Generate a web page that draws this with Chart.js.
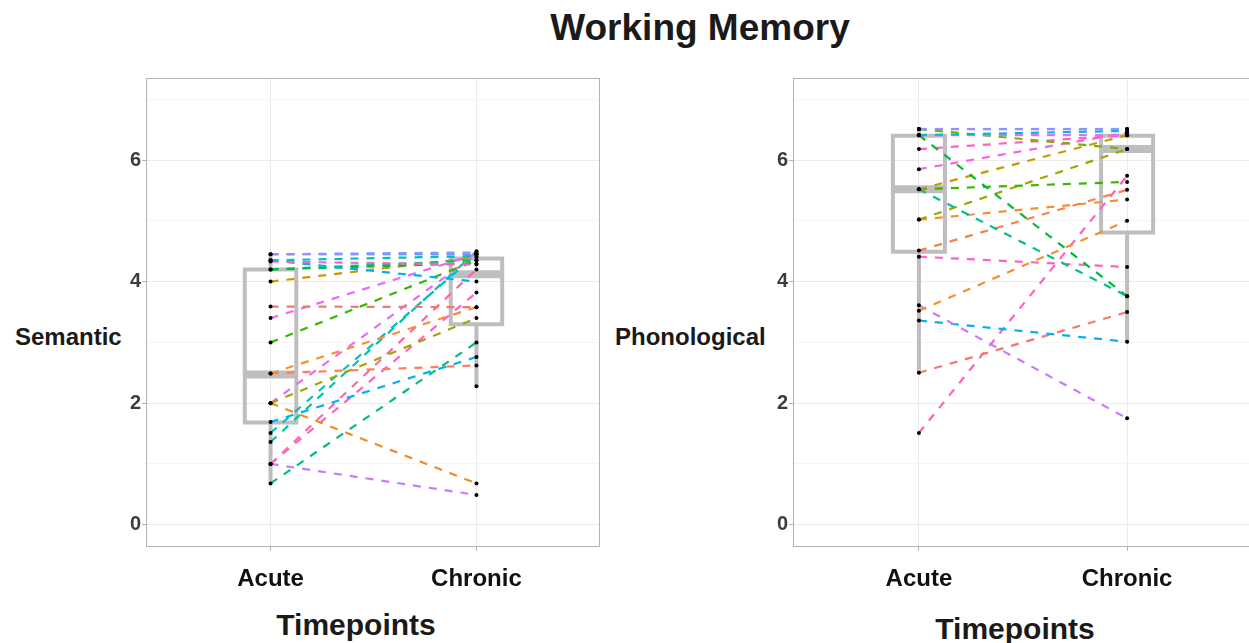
<!DOCTYPE html>
<html>
<head>
<meta charset="utf-8">
<script src="https://cdn.jsdelivr.net/npm/chart.js@4.4.0/dist/chart.umd.min.js"></script>
<style>
  html, body { margin: 0; padding: 0; width: 1249px; height: 643px; overflow: hidden; background: #fff; }
  body { position: relative; font-family: "Liberation Sans", Arial, sans-serif; }
  .lbl { position: absolute; font-weight: bold; color: #1a1a1a; white-space: nowrap; line-height: 1; }
  canvas { position: absolute; top: 0; }
</style>
</head>
<body>
<div class="lbl" style="left:500px; width:400px; top:9px; font-size:37px; text-align:center;">Working Memory</div>
<div class="lbl" style="left:15px; top:325px; font-size:24px;">Semantic</div>
<div class="lbl" style="left:615px; top:325px; font-size:24px;">Phonological</div>
<div class="lbl" style="left:256px; width:200px; top:610px; font-size:30px; text-align:center;">Timepoints</div>
<div class="lbl" style="left:915px; width:200px; top:614px; font-size:30px; text-align:center;">Timepoints</div>

<canvas id="semantic" width="620" height="643" style="left:0;"></canvas>
<canvas id="phono" width="636" height="643" style="left:620px;"></canvas>

<script>
// tick labels
const timepoints = ['Acute', 'Chronic'];
const yTicks = [0, 1, 2, 3, 4, 5, 6, 7];

// Semantic: one entry per subject (acute -> chronic)
const semanticAcute   = [4.45, 4.45, 4.35, 4.33, 4.35, 4.2, 4.2, 4.0, 3.59, 3.4, 3.0, 2.49, 2.49, 2.0, 2.0, 2.0, 1.69, 1.51, 1.36, 1.0, 1.0, 1.0, 0.68, null];
const semanticChronic = [4.48, 4.45, 4.42, 4.28, 4.0, 4.3, 4.35, 4.4, 3.58, 4.45, 4.35, 3.58, 2.62, 0.68, 3.4, 4.45, 2.76, 4.45, 4.5, 0.49, 3.82, 4.2, 3.0, 2.28];
// boxplot stats: [lower whisker, q1, median, q3, upper whisker]
const semanticBoxAcute   = [0.68, 1.68, 2.47, 4.2, 4.45];
const semanticBoxChronic = [2.28, 3.3, 4.12, 4.38, 4.5];

// Phonological
const phonoAcute   = [6.51, 6.51, 6.41, 6.41, 6.51, 6.41, 6.18, 5.85, 5.52, 5.52, 5.52, 5.02, 5.02, 4.51, 4.41, 3.52, 3.61, 3.36, 2.50, 1.51];
const phonoChronic = [6.51, 6.51, 6.48, 6.41, 6.18, 3.76, 6.41, 6.45, 6.41, 5.64, 3.76, 6.18, 5.35, 5.51, 4.24, 5.0, 1.75, 3.01, 3.50, 5.74];
const phonoBoxAcute   = [2.5, 4.49, 5.52, 6.4, 6.51];
const phonoBoxChronic = [3.0, 4.81, 6.18, 6.4, 6.51];

// line colours per subject
const semanticColors = ['#9590FF', '#619CFF', '#00BFC4', '#FF61C3', '#00B0F6', '#00BA38', '#00C08B', '#D39200',
  '#F8766D', '#E76BF3', '#39B600', '#F4912F', '#FB7E5E', '#EE8C26', '#A3A500', '#E76BF3', '#00B0F6', '#00BFC4',
  '#00C1A3', '#C77CFF', '#FF61C3', '#FF65AC', '#00BF7D', '#000000'];
const phonoColors = ['#9590FF', '#619CFF', '#00BFC4', '#E76BF3', '#7CAE00', '#00BA38', '#FF61C3', '#F564E3',
  '#C49A00', '#39B600', '#00C08B', '#A3A500', '#F4912F', '#FB7E4A', '#FF61C3', '#F4912F', '#C77CFF', '#00B0F6',
  '#F8766D', '#FF62BC'];

const FONT = '"Liberation Sans", Arial, sans-serif';
const BOX_GREY = '#bebebe';

const frame = {
  id: 'frame',
  afterDatasetsDraw(chart) {
    const { ctx, chartArea: a } = chart;
    ctx.save();
    ctx.strokeStyle = '#b3b3b3';
    ctx.lineWidth = 1;
    ctx.strokeRect(Math.round(a.left) - 0.5, Math.round(a.top) + 0.5,
      Math.round(a.right - a.left), Math.round(a.bottom - a.top));
    ctx.restore();
  }
};

function greyLine(points, width, cap) {
  return {
    data: points, showLine: true, borderColor: BOX_GREY, borderWidth: width,
    borderCapStyle: cap || 'butt', borderJoinStyle: 'miter',
    pointRadius: 0, order: 3
  };
}

function makePanel(id, acute, chronic, colors, boxA, boxC, yAxisWidth, padRight) {
  const datasets = [];
  const half = 0.125;

  [boxA, boxC].forEach((b, i) => {
    const x = i + 1;
    const [lo, q1, med, q3, hi] = b;
    datasets.push(greyLine([{ x: x, y: hi }, { x: x, y: q3 }], 4));
    datasets.push(greyLine([{ x: x, y: q1 }, { x: x, y: lo }], 4));
    datasets.push(greyLine([
      { x: x - half, y: q1 }, { x: x + half, y: q1 }, { x: x + half, y: q3 },
      { x: x - half, y: q3 }, { x: x - half, y: q1 }
    ], 4, 'square'));
    datasets.push(greyLine([{ x: x - half, y: med }, { x: x + half, y: med }], 8));
  });

  acute.forEach((a, i) => {
    if (a == null) return;
    datasets.push({
      data: [{ x: 1, y: a }, { x: 2, y: chronic[i] }],
      showLine: true, borderColor: colors[i], borderWidth: 2.2, borderDash: [8, 8],
      pointRadius: 0, order: 2
    });
  });

  const pts = [];
  acute.forEach((a, i) => {
    if (a != null) pts.push({ x: 1, y: a });
    pts.push({ x: 2, y: chronic[i] });
  });
  datasets.push({ data: pts, pointRadius: 2, pointBackgroundColor: '#000', pointBorderWidth: 0, order: 1 });

  new Chart(document.getElementById(id), {
    type: 'scatter',
    data: { datasets: datasets },
    plugins: [frame],
    options: {
      responsive: false,
      animation: false,
      layout: { padding: { top: 78, right: padRight, left: 0, bottom: 0 } },
      plugins: { legend: { display: false }, tooltip: { enabled: false } },
      scales: {
        x: {
          type: 'linear', min: 0.4, max: 2.6,
          afterBuildTicks: s => { s.ticks = [{ value: 1 }, { value: 2 }]; },
          afterFit: s => { s.height = 97; },
          ticks: {
            callback: v => timepoints[v - 1],
            font: { family: FONT, size: 24, weight: 'bold' },
            color: '#111', padding: 14, maxRotation: 0, autoSkip: false
          },
          grid: { color: '#ebebeb', tickColor: '#b3b3b3', tickLength: 5 },
          border: { display: false }
        },
        y: {
          min: -0.35, max: 7.35,
          afterBuildTicks: s => { s.ticks = yTicks.map(v => ({ value: v })); },
          afterFit: s => { s.width = yAxisWidth; },
          ticks: {
            callback: v => (v % 2 === 0 ? String(v) : ''),
            font: { family: FONT, size: 20, weight: 'bold' },
            color: '#3d3d3d', padding: 1, autoSkip: false
          },
          grid: {
            color: c => (c.tick && c.tick.value % 2 === 0 ? '#ebebeb' : '#f5f5f5'),
            tickColor: c => (c.tick && c.tick.value % 2 === 0 ? '#b3b3b3' : 'rgba(0,0,0,0)'),
            tickLength: 5
          },
          border: { display: false }
        }
      }
    }
  });
}

makePanel('semantic', semanticAcute, semanticChronic, semanticColors, semanticBoxAcute, semanticBoxChronic, 147, 20);
makePanel('phono', phonoAcute, phonoChronic, phonoColors, phonoBoxAcute, phonoBoxChronic, 174, 1);
</script>
</body>
</html>
